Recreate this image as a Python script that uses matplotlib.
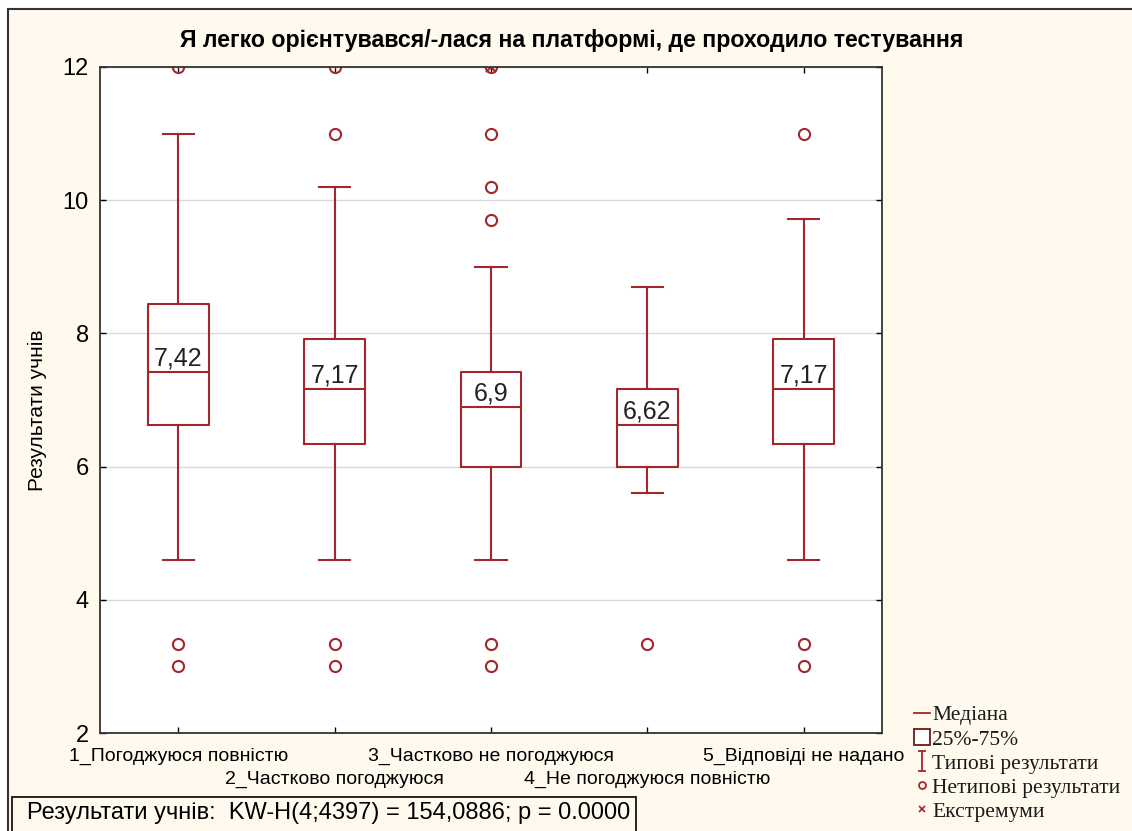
import matplotlib.pyplot as plt
from matplotlib.lines import Line2D
from matplotlib.patches import Patch, Rectangle
from matplotlib.path import Path

categories = ["1_Погоджуюся повністю", "2_Частково погоджуюся",
              "3_Частково не погоджуюся", "4_Не погоджуюся повністю",
              "5_Відповіді не надано"]
medians = [7.42, 7.17, 6.90, 6.62, 7.17]
q1 = [6.62, 6.34, 6.00, 6.00, 6.34]
q3 = [8.44, 7.92, 7.42, 7.17, 7.92]
whisk_lo = [4.6, 4.6, 4.6, 5.6, 4.6]
whisk_hi = [11.0, 10.2, 9.0, 8.7, 9.72]
outliers = [[12, 3.33, 3.0], [12, 11, 3.33, 3.0],
            [12, 11, 10.2, 9.7, 3.33, 3.0], [3.33], [11, 3.33, 3.0]]
extremes = [[], [], [12], [], []]
median_labels = ["7,42", "7,17", "6,9", "6,62", "7,17"]

title = "Я легко орієнтувався/-лася на платформі, де проходило тестування"
stat_text = "Результати учнів:  KW-H(4;4397) = 154,0886; p = 0.0000"
legend_labels = ["Медіана", "25%-75%", "Типові результати",
                 "Нетипові результати", "Екстремуми"]

W, H = 1132, 831
red = '#A3262A'
cream = '#FFF9EE'

plt.rcParams['font.family'] = ['Liberation Sans', 'DejaVu Sans']

fig = plt.figure(figsize=(W / 100, H / 100), dpi=100, facecolor='white')
fig.add_artist(Rectangle((8 / W, -0.1), 1.1, 1 - 9 / H + 0.1, transform=fig.transFigure,
                         facecolor=cream, edgecolor='#333333', lw=1.5, zorder=-10))

ax = fig.add_axes([100 / W, 1 - 733 / H, 782 / W, 666 / H])
ax.set_facecolor('white')

stats = []
for i in range(len(categories)):
    stats.append(dict(med=medians[i], q1=q1[i], q3=q3[i],
                      whislo=whisk_lo[i], whishi=whisk_hi[i],
                      fliers=outliers[i], label=categories[i]))

pos = list(range(1, len(categories) + 1))
ax.bxp(stats, positions=pos, widths=0.39, showfliers=True,
       boxprops=dict(color=red, lw=1.5),
       medianprops=dict(color=red, lw=1.5),
       whiskerprops=dict(color=red, lw=1.5),
       capprops=dict(color=red, lw=1.5),
       capwidths=0.2,
       flierprops=dict(marker='o', markersize=8, markerfacecolor='none',
                       markeredgecolor=red, markeredgewidth=1.5))

for i, ex in enumerate(extremes):
    if ex:
        ax.plot([pos[i]] * len(ex), ex, ls='none', marker='x', markersize=7,
                color=red, mew=1.5)

for i, m in enumerate(medians):
    ax.annotate(median_labels[i], (pos[i], m), xytext=(0, 1), textcoords='offset points',
                ha='center', va='bottom', fontsize=18, color='#222222')

ax.set_xlim(0.5, 5.5)
ax.set_ylim(2, 12)
ax.set_yticks([2, 4, 6, 8, 10, 12])
ax.yaxis.grid(True, color='#D9D9D9', lw=1)
ax.set_axisbelow(True)

ax.set_xticks(pos)
ax.set_xticklabels(categories, fontsize=14)
ax.tick_params(axis='both', direction='in', length=4, top=True, right=True, width=1)
ax.tick_params(axis='y', labelsize=17, pad=8)
# staggered category labels: every second one goes to a lower row
for i, tk in enumerate(ax.xaxis.get_major_ticks()):
    tk.set_pad(10.5 if i % 2 == 0 else 27)
for s in ax.spines.values():
    s.set_color('#333333')
    s.set_linewidth(1.3)

ax.set_ylabel("Результати учнів", fontsize=15)
ax.yaxis.set_label_coords(-0.068, 0.485)
fig.text(572 / W, 1 - 40 / H, title, ha='center', va='center',
         fontsize=16.7, fontweight='bold')

# statistic box
fig.add_artist(Rectangle((12 / W, -0.05), 624 / W, (H - 797) / H + 0.05,
                         transform=fig.transFigure, facecolor=cream,
                         edgecolor='black', lw=1.2))
fig.text(27 / W, 1 - 813 / H, stat_text, ha='left', va='center', fontsize=17)

# legend
whisk_path = Path([(-0.4, 1), (0.4, 1), (0, 1), (0, -1), (-0.4, -1), (0.4, -1)],
                  [Path.MOVETO, Path.LINETO, Path.MOVETO, Path.LINETO,
                   Path.MOVETO, Path.LINETO])
handles = [
    Line2D([], [], color=red, lw=1.3),
    Patch(facecolor='white', edgecolor='#6B1A1A', lw=1.3),
    Line2D([], [], ls='none', marker=whisk_path, markersize=14, color=red,
           markerfacecolor='none', mew=1.3),
    Line2D([], [], ls='none', marker='o', markersize=5, markerfacecolor='none',
           markeredgecolor=red, mew=1.3),
    Line2D([], [], ls='none', marker='x', markersize=5, color=red, mew=1.2),
]
leg = fig.legend(handles, legend_labels, loc='upper left',
                 bbox_to_anchor=(903 / W, 1 - 694 / H), frameon=False,
                 prop=dict(family='Liberation Serif', size=15.5),
                 handlelength=0.75, handletextpad=0.1, labelspacing=0.16,
                 borderpad=0, handleheight=0.8)
for t in leg.get_texts():
    t.set_color('#1A1A1A')

fig.savefig('out.png', dpi=100, facecolor=fig.get_facecolor())
